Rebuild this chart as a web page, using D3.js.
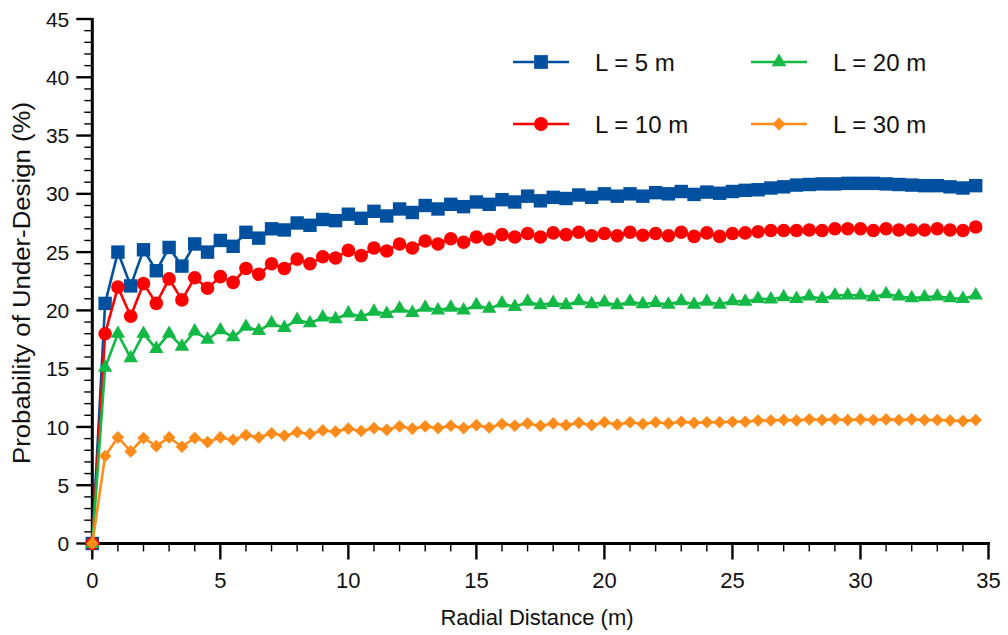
<!DOCTYPE html>
<html>
<head>
<meta charset="utf-8">
<script src="https://cdn.jsdelivr.net/npm/d3@7"></script>
<style>
  html, body { margin: 0; padding: 0; background: #fff; }
  svg { display: block; font-family: "Liberation Sans", Arial, sans-serif; }
</style>
</head>
<body>
<svg id="chart" width="1008" height="635"></svg>
<script>
const distances = [
  0, 0.5, 1, 1.5, 2, 2.5, 3, 3.5, 4, 4.5,
  5, 5.5, 6, 6.5, 7, 7.5, 8, 8.5, 9, 9.5,
  10, 10.5, 11, 11.5, 12, 12.5, 13, 13.5, 14, 14.5,
  15, 15.5, 16, 16.5, 17, 17.5, 18, 18.5, 19, 19.5,
  20, 20.5, 21, 21.5, 22, 22.5, 23, 23.5, 24, 24.5,
  25, 25.5, 26, 26.5, 27, 27.5, 28, 28.5, 29, 29.5,
  30, 30.5, 31, 31.5, 32, 32.5, 33, 33.5, 34, 34.5
];
const L5 = [
  0, 20.6, 25.0, 22.1, 25.2, 23.4, 25.4, 23.8, 25.7, 25.0,
  26.0, 25.5, 26.7, 26.2, 27.0, 26.9, 27.5, 27.3, 27.8, 27.7,
  28.25, 27.9, 28.5, 28.1, 28.7, 28.4, 29.0, 28.7, 29.1, 28.9,
  29.3, 29.1, 29.5, 29.3, 29.8, 29.4, 29.7, 29.6, 29.9, 29.7,
  30.0, 29.8, 30.0, 29.8, 30.1, 30.0, 30.2, 29.95, 30.15, 30.05,
  30.2, 30.3, 30.35, 30.5, 30.6, 30.75, 30.8, 30.85, 30.85, 30.9,
  30.9, 30.9, 30.85, 30.8, 30.75, 30.7, 30.7, 30.6, 30.5, 30.7
];
const L10 = [
  0, 18.0, 22.0, 19.5, 22.3, 20.6, 22.7, 20.9, 22.8, 21.9,
  22.9, 22.4, 23.6, 23.1, 24.0, 23.6, 24.4, 24.0, 24.6, 24.5,
  25.15, 24.7, 25.35, 25.1, 25.7, 25.35, 25.95, 25.7, 26.15, 25.85,
  26.3, 26.1, 26.5, 26.3, 26.6, 26.3, 26.65, 26.5, 26.7, 26.4,
  26.6, 26.4, 26.7, 26.45, 26.6, 26.4, 26.7, 26.35, 26.65, 26.35,
  26.6, 26.65, 26.75, 26.85, 26.85, 26.85, 26.9, 26.85, 27.0, 27.0,
  27.0, 26.85, 27.0, 26.9, 26.9, 26.9, 27.0, 26.9, 26.85, 27.15
];
const L20 = [
  0, 15.1, 18.0, 15.9, 18.0, 16.7, 18.0, 16.9, 18.2, 17.5,
  18.3, 17.7, 18.6, 18.25, 18.9, 18.5, 19.2, 18.9, 19.4, 19.25,
  19.75, 19.45, 19.9, 19.7, 20.15, 19.8, 20.25, 20.0, 20.25, 20.0,
  20.45, 20.15, 20.6, 20.3, 20.75, 20.45, 20.65, 20.45, 20.8, 20.55,
  20.7, 20.45, 20.75, 20.55, 20.65, 20.5, 20.8, 20.5, 20.75, 20.5,
  20.8, 20.75, 21.0, 20.95, 21.15, 21.0, 21.2, 21.0, 21.3, 21.3,
  21.3, 21.15, 21.4, 21.2, 21.05, 21.15, 21.2, 21.05, 21.0, 21.3
];
const L30 = [
  0, 7.5, 9.1, 7.9, 9.05, 8.35, 9.1, 8.3, 9.05, 8.7,
  9.1, 8.9, 9.3, 9.1, 9.45, 9.25, 9.55, 9.4, 9.7, 9.6,
  9.85, 9.65, 9.9, 9.75, 10.05, 9.85, 10.05, 9.9, 10.1, 9.9,
  10.15, 9.95, 10.25, 10.1, 10.3, 10.1, 10.3, 10.15, 10.35, 10.15,
  10.4, 10.2, 10.4, 10.25, 10.4, 10.3, 10.45, 10.35, 10.4, 10.4,
  10.45, 10.45, 10.55, 10.55, 10.6, 10.55, 10.65, 10.6, 10.65, 10.6,
  10.65, 10.6, 10.65, 10.6, 10.65, 10.6, 10.6, 10.55, 10.5, 10.6
];
const seriesNames = ["L = 5 m", "L = 10 m", "L = 20 m", "L = 30 m"];
const seriesColors = ["#0050a0", "#ff0000", "#12b944", "#ff8c1a"];
const xTicks = [0, 5, 10, 15, 20, 25, 30, 35];
const yTicks = [0, 5, 10, 15, 20, 25, 30, 35, 40, 45];
const xTitle = "Radial Distance (m)";
const yTitle = "Probability of Under-Design (%)";

const seriesValues = [L5, L10, L20, L30];
const symbolDefs = [
  { type: d3.symbolSquare, size: 180, rot: 0 },
  { type: d3.symbolCircle, size: 145, rot: 0 },
  { type: d3.symbolTriangle, size: 90, rot: 0 },
  { type: d3.symbolSquare, size: 80, rot: 45 }
];

const svg = d3.select("#chart");
const x = d3.scaleLinear().domain([0, 35]).range([92.3, 988.5]);
const y = d3.scaleLinear().domain([0, 45]).range([543.5, 19]);

const xMinor = d3.range(0, 36, 1).filter(v => v % 5 !== 0);
const yMinor = d3.range(0, 46, 1).filter(v => v % 5 !== 0);

const axes = svg.append("g");
// x axis
const xAxis = axes.append("g").attr("transform", `translate(0,${y(0)})`);
xAxis.selectAll("line.minor").data(xMinor).join("line")
  .attr("x1", d => x(d)).attr("x2", d => x(d)).attr("y1", 0).attr("y2", 8)
  .attr("stroke", "#000").attr("stroke-width", 1.4);
xAxis.selectAll("line.major").data(xTicks).join("line")
  .attr("x1", d => x(d)).attr("x2", d => x(d)).attr("y1", 0).attr("y2", 16)
  .attr("stroke", "#000").attr("stroke-width", 2.4);
xAxis.append("line").attr("x1", x(0) - 1.5).attr("x2", x(35) + 1.5).attr("y1", 0).attr("y2", 0)
  .attr("stroke", "#000").attr("stroke-width", 3);
xAxis.selectAll("text").data(xTicks).join("text")
  .attr("x", d => x(d)).attr("y", 44)
  .attr("text-anchor", "middle").attr("font-size", 22).attr("fill", "#111")
  .text(d => d);

// y axis
const yAxis = axes.append("g").attr("transform", `translate(${x(0)},0)`);
yAxis.selectAll("line.minor").data(yMinor).join("line")
  .attr("x1", 0).attr("x2", -8).attr("y1", d => y(d)).attr("y2", d => y(d))
  .attr("stroke", "#000").attr("stroke-width", 1.4);
yAxis.selectAll("line.major").data(yTicks).join("line")
  .attr("x1", 0).attr("x2", -16).attr("y1", d => y(d)).attr("y2", d => y(d))
  .attr("stroke", "#000").attr("stroke-width", 2.4);
yAxis.append("line").attr("x1", 0).attr("x2", 0).attr("y1", y(45) - 1).attr("y2", y(0) + 1.5)
  .attr("stroke", "#000").attr("stroke-width", 3);
yAxis.selectAll("text").data(yTicks).join("text")
  .attr("x", -23).attr("y", d => y(d)).attr("dy", "0.36em")
  .attr("text-anchor", "end").attr("font-size", 21).attr("fill", "#111")
  .text(d => d);

// titles
svg.append("text").attr("x", 537).attr("y", 625)
  .attr("text-anchor", "middle").attr("font-size", 22).attr("fill", "#111").text(xTitle);
svg.append("text").attr("transform", `translate(30,283) rotate(-90)`)
  .attr("text-anchor", "middle").attr("font-size", 23).attr("fill", "#111")
  .attr("textLength", 362).attr("lengthAdjust", "spacingAndGlyphs")
  .text(yTitle);

// series
const line = d3.line().x((d, i) => x(distances[i])).y(d => y(d));
const plot = svg.append("g");
seriesValues.forEach((vals, si) => {
  const g = plot.append("g");
  g.append("path").datum(vals).attr("d", line)
    .attr("fill", "none").attr("stroke", seriesColors[si]).attr("stroke-width", 2.6)
    .attr("stroke-linejoin", "round");
  const sym = d3.symbol().type(symbolDefs[si].type).size(symbolDefs[si].size);
  g.selectAll("path.m").data(vals).join("path").attr("class", "m")
    .attr("d", sym)
    .attr("transform", (d, i) => `translate(${x(distances[i])},${y(d)}) rotate(${symbolDefs[si].rot})`)
    .attr("fill", seriesColors[si]);
});

// legend
const legendPos = [
  { lx: 513, ly: 62 }, { lx: 513, ly: 124 },
  { lx: 751, ly: 62 }, { lx: 751, ly: 124 }
];
const legend = svg.append("g");
seriesNames.forEach((name, si) => {
  const p = legendPos[si];
  const g = legend.append("g");
  g.append("line").attr("x1", p.lx).attr("x2", p.lx + 56).attr("y1", p.ly).attr("y2", p.ly)
    .attr("stroke", seriesColors[si]).attr("stroke-width", 2.6);
  const sym = d3.symbol().type(symbolDefs[si].type).size(symbolDefs[si].size * 1.05);
  g.append("path").attr("d", sym)
    .attr("transform", `translate(${p.lx + 28},${p.ly}) rotate(${symbolDefs[si].rot})`)
    .attr("fill", seriesColors[si]);
  g.append("text").attr("x", p.lx + 82).attr("y", p.ly).attr("dy", "0.36em")
    .attr("font-size", 24).attr("fill", "#111").text(name);
});
</script>
</body>
</html>
